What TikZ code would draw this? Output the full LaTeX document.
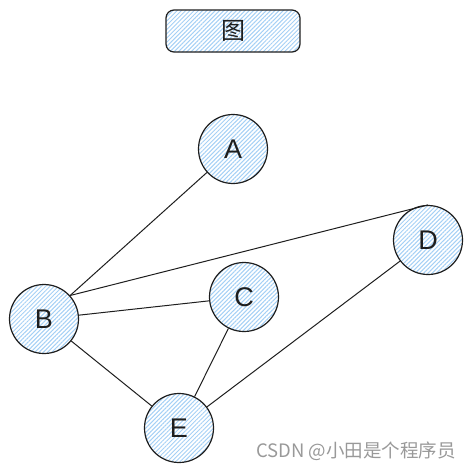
\documentclass[tikz,border=0pt]{standalone}
\usepackage{fontspec}
\setmainfont{Liberation Sans}
\newfontfamily\cjk{Noto Sans CJK SC}
\usetikzlibrary{patterns.meta}
\definecolor{hatch}{HTML}{A5D0F5}
\definecolor{ink}{HTML}{1E1E1E}
\tikzset{
  x=1pt, y=-1pt,
  vert/.style={circle, draw=ink, line width=1.2pt, minimum size=69pt, inner sep=0pt,
    pattern={Lines[angle=45,distance=3pt,line width=1pt]}, pattern color=hatch,
    font=\fontsize{27}{27}\selectfont, text=ink},
  edge/.style={draw=ink, line width=1pt},
  titlebox/.style={rounded corners=8pt, draw=ink, line width=1.2pt, minimum width=134pt, minimum height=42pt,
    pattern={Lines[angle=45,distance=3pt,line width=1pt]}, pattern color=hatch,
    font=\cjk\fontsize{24}{24}\selectfont, text=ink}
}
\begin{document}
\begin{tikzpicture}
\useasboundingbox (0,0) rectangle (473,472);
\node[titlebox] (t) at (233,31) {图};
\node[vert] (A) at (233,149) {A};
\node[vert] (B) at (44,319) {B};
\node[vert] (C) at (244,297) {C};
\node[vert] (D) at (428,240) {D};
\node[vert] (E) at (179,428) {E};
\draw[edge] (A) -- (B);
\draw[edge] (B.42) -- (D.north);
\draw[edge] (B) -- (C);
\draw[edge] (B) -- (E);
\draw[edge] (C) -- (E);
\draw[edge] (D) -- (E);
\node[anchor=east, text=gray!80, font=\cjk\fontsize{18.5}{18.5}\selectfont, inner sep=0pt] (w) at (456,451) {CSDN @小田是个程序员};
\end{tikzpicture}
\end{document}
